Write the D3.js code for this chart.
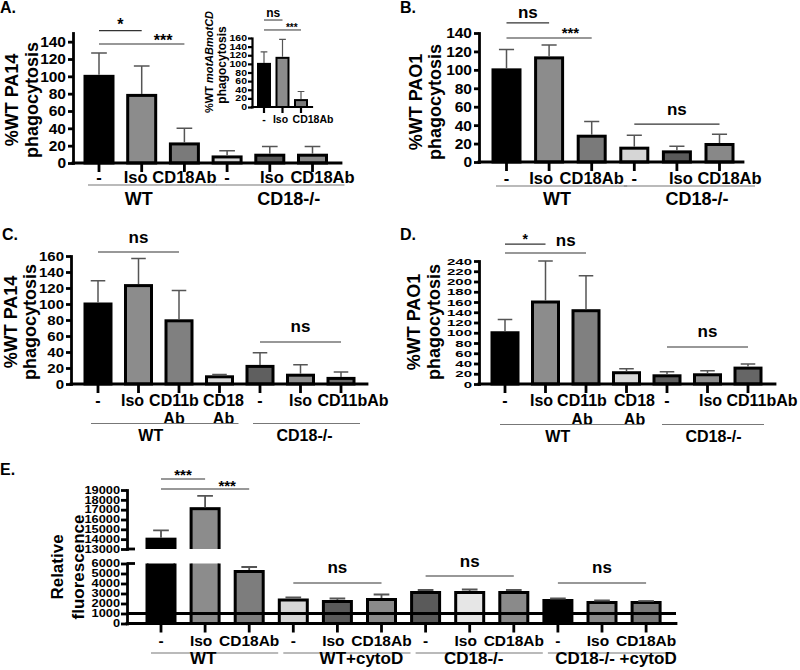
<!DOCTYPE html>
<html><head><meta charset="utf-8">
<script src="https://cdn.jsdelivr.net/npm/d3@7"></script>
<style>
body{margin:0;background:#fff}
svg text{font-family:"Liberation Sans",Arial,Helvetica,sans-serif;font-weight:bold;fill:#000}
</style></head><body>
<svg id="c" width="800" height="670" xmlns="http://www.w3.org/2000/svg"></svg>
<script>
// ---------------- DATA ----------------
// Panel A (PA14)
const catsA = ["-", "Iso", "CD18Ab", "-", "Iso", "CD18Ab"];
const groupsA = ["WT", "CD18-/-"];
const groupSizeA = [3, 3];
const meanA = [100, 78, 22, 7, 9, 9];
const sdA = [27, 34, 18, 7, 10, 10];
const ticksA = [0, 20, 40, 60, 80, 100, 120, 140];

// Panel A inset (motABmotCD)
const catsIn = ["-", "Iso", "CD18Ab"];
const meanIn = [100, 114, 16];
const sdIn = [28, 43, 20];
const ticksIn = [0, 20, 40, 60, 80, 100, 120, 140, 160];

// Panel B (PAO1)
const catsB = ["-", "Iso", "CD18Ab", "-", "Iso", "CD18Ab"];
const groupsB = ["WT", "CD18-/-"];
const groupSizeB = [3, 3];
const meanB = [100, 113, 28, 15, 11, 19];
const sdB = [22, 14, 16, 14, 6, 11];
const ticksB = [0, 20, 40, 60, 80, 100, 120, 140];

// Panel C (PA14, CD11b)
const catsC = ["-", "Iso", "CD11b\nAb", "CD18\nAb", "-", "Iso", "CD11bAb"];
const groupsC = ["WT", "CD18-/-"];
const groupSizeC = [4, 3];
const meanC = [100, 123, 79, 9, 22, 11, 7];
const sdC = [29, 34, 38, 3, 17, 13, 8];
const ticksC = [0, 20, 40, 60, 80, 100, 120, 140, 160];

// Panel D (PAO1, CD11b)
const catsD = ["-", "Iso", "CD11b\nAb", "CD18\nAb", "-", "Iso", "CD11bAb"];
const groupsD = ["WT", "CD18-/-"];
const groupSizeD = [4, 3];
const meanD = [100, 160, 143, 22, 16, 18, 31];
const sdD = [26, 80, 68, 8, 8, 8, 8];
const ticksD = [0, 20, 40, 60, 80, 100, 120, 140, 160, 180, 200, 220, 240];

// Panel E (relative fluorescence, broken axis)
const catsE = ["-", "Iso", "CD18Ab", "-", "Iso", "CD18Ab", "-", "Iso", "CD18Ab", "-", "Iso", "CD18Ab"];
const groupsE = ["WT", "WT+cytoD", "CD18-/-", "CD18-/- +cytoD"];
const groupSizeE = [3, 3, 3, 3];
const meanE = [14000, 17100, 5200, 2350, 2200, 2400, 3100, 3100, 3100, 2300, 2100, 2100];
const sdE = [900, 1300, 450, 250, 300, 500, 250, 300, 250, 200, 200, 150];
const ticksELow = [0, 1000, 2000, 3000, 4000, 5000, 6000];
const ticksEHigh = [13000, 14000, 15000, 16000, 17000, 18000, 19000];
const baselineE = 1000;

// ---------------- STYLE ----------------
const FONT = '"Liberation Sans", Arial, Helvetica, sans-serif';
const fillsA = ["#000", "#8c8c8c", "#7a7a7a", "#d4d4d4", "#595959", "#898989"];
const fillsIn = ["#000", "#8c8c8c", "#7a7a7a"];
const fillsB = ["#000", "#8c8c8c", "#7a7a7a", "#d6d6d6", "#5a5a5a", "#888888"];
const fillsC = ["#000", "#8c8c8c", "#808080", "#d8d8d8", "#5f5f5f", "#8c8c8c", "#6e6e6e"];
const fillsD = ["#000", "#8c8c8c", "#808080", "#d8d8d8", "#5f5f5f", "#8c8c8c", "#666666"];
const fillsE = ["#000", "#8c8c8c", "#7d7d7d", "#d6d6d6", "#5a5a5a", "#8a8a8a", "#5a5a5a", "#e6e6e6", "#8a8a8a", "#000", "#8a8a8a", "#7a7a7a"];
const fmt = d3.format("d");

const svg = d3.select("#c");

function bandFor(n, firstLeft, step, bw) {
  const gap = step - bw;
  const r0 = firstLeft - gap / 2;
  return d3.scaleBand().domain(d3.range(n)).range([r0, r0 + n * step])
    .paddingInner(gap / step).paddingOuter(gap / step / 2);
}

function styleAxis(g, fs, sw, sy) {
  g.attr("font-family", FONT);
  g.select(".domain").attr("stroke", "#000").attr("stroke-width", sw).attr("stroke-linecap", "square");
  g.selectAll(".tick line").attr("stroke", "#000").attr("stroke-width", sw);
  g.selectAll(".tick text").attr("font-size", fs).attr("font-weight", "bold").attr("fill", "#000");
  if (sy) g.selectAll(".tick text").attr("transform", `scale(1,${sy})`);
}

function groupStarts(sizes) {
  const s = []; let acc = 0;
  sizes.forEach(n => { s.push(acc); acc += n; });
  return s;
}

function drawBars(g, x, y, mean, sd, fills, o) {
  g.selectAll(null).data(mean).join("rect")
    .attr("x", (d, i) => x(i)).attr("width", x.bandwidth())
    .attr("y", d => y(d)).attr("height", d => y(0) - y(d))
    .attr("fill", (d, i) => fills[i]).attr("stroke", "#000").attr("stroke-width", o.barSW);
  const cx = i => x(i) + x.bandwidth() / 2;
  const cap = x.bandwidth() * 0.28;
  g.selectAll(null).data(mean).join("path")
    .attr("d", (d, i) => `M${cx(i)},${y(d) - o.barSW / 2}V${y(d + sd[i])}M${cx(i) - cap},${y(d + sd[i])}H${cx(i) + cap}`)
    .attr("fill", "none").attr("stroke", "#555").attr("stroke-width", o.errSW);
}

function drawCats(g, x, cats, o) {
  const cx = i => x(i) + x.bandwidth() / 2 + (o.catDx ? o.catDx[i] : 0);
  const t = g.selectAll(null).data(cats).join("text")
    .attr("text-anchor", "middle").attr("font-size", o.catFont)
    .attr("x", (d, i) => cx(i)).attr("y", o.catY);
  t.each(function (d, i) {
    const parts = d.split("\n");
    d3.select(this).selectAll("tspan").data(parts).join("tspan")
      .attr("x", cx(i))
      .attr("dy", (p, k) => k === 0 ? 0 : o.lineH)
      .text(p => p);
  });
}

function drawGroups(g, x, groups, sizes, o) {
  const starts = groupStarts(sizes);
  const bw = x.bandwidth();
  groups.forEach((lab, gi) => {
    const a = starts[gi], b = a + sizes[gi] - 1;
    g.append("line").attr("x1", x(a) + o.ulPad[0]).attr("x2", x(b) + bw + o.ulPad[1])
      .attr("y1", o.ulY).attr("y2", o.ulY).attr("stroke", "#777").attr("stroke-width", 1.1);
    const cx = (x(a) + x(b) + bw) / 2 + o.grpDx[gi];
    g.append("text").attr("x", cx).attr("y", o.grpY).attr("text-anchor", "middle")
      .attr("font-size", o.grpFont).text(lab);
  });
}

function drawBrackets(g, x, y, brs) {
  const cx = i => x(i) + x.bandwidth() / 2;
  brs.forEach(b => {
    const yy = y(b.v);
    g.append("line").attr("x1", cx(b.a)).attr("x2", cx(b.b)).attr("y1", yy).attr("y2", yy)
      .attr("stroke", "#333").attr("stroke-width", b.sw || 1.2);
    g.append("text").attr("x", (cx(b.la) + cx(b.lb)) / 2).attr("y", yy + b.dy)
      .attr("text-anchor", "middle").attr("font-size", b.fs).text(b.t);
  });
}

function yTitle(lines, cy, fs) {
  lines.forEach(l => {
    svg.append("text").attr("transform", `translate(${l.x},${cy}) rotate(-90)`)
      .attr("text-anchor", "middle").attr("font-size", fs).text(l.t);
  });
}

function panel(o) {
  const g = svg.append("g");
  const x = bandFor(o.mean.length, o.firstLeft, o.step, o.bw);
  const y = d3.scaleLinear().domain([0, o.max]).range([o.y0, o.yTop]);
  drawBars(g, x, y, o.mean, o.sd, o.fills, o);
  const ya = g.append("g").attr("transform", `translate(${o.axisX},0)`)
    .call(d3.axisLeft(y).tickValues(o.ticks).tickFormat(fmt).tickSize(o.tickLen).tickPadding(o.tickPad).tickSizeOuter(0));
  styleAxis(ya, o.tickFont, o.axisSW, o.tickSY);
  g.append("line").attr("x1", o.axisX).attr("x2", o.xEnd).attr("y1", y(0)).attr("y2", y(0))
    .attr("stroke", "#000").attr("stroke-width", o.axisSW).attr("stroke-linecap", "square");
  g.selectAll(null).data(o.mean).join("line")
    .attr("x1", (d, i) => x(i) + x.bandwidth() / 2).attr("x2", (d, i) => x(i) + x.bandwidth() / 2)
    .attr("y1", y(0)).attr("y2", y(0) + o.xTickLen).attr("stroke", "#000").attr("stroke-width", o.axisSW);
  drawCats(g, x, o.cats, o);
  if (o.groups) drawGroups(g, x, o.groups, o.groupSize, o);
  drawBrackets(g, x, y, o.brackets);
  return { x, y, g };
}

// ---------------- PANEL A ----------------
panel({
  cats: catsA, mean: meanA, sd: sdA, fills: fillsA, ticks: ticksA, max: 150,
  axisX: 73, y0: 163, yTop: 33, firstLeft: 85, step: 42.7, bw: 28, xEnd: 341,
  tickLen: 5, tickPad: 2, tickFont: 15.5, axisSW: 2.8, barSW: 3, errSW: 1.5, xTickLen: 9,
  catY: 183, catFont: 16.5, lineH: 18, catDx: [0, -6, 0, 0, 2, 10],
  groups: groupsA, groupSize: groupSizeA, ulY: 185, ulPad: [3, 18], grpY: 205, grpFont: 18, grpDx: [-3, 19],
  brackets: [
    { a: 0, b: 1, la: 0, lb: 1, v: 152.7, t: "*", dy: -0.5, fs: 16 },
    { a: 0, b: 2, la: 1, lb: 2, v: 137.3, t: "***", dy: 2, fs: 16 }
  ]
});
yTitle([{ x: 18, t: "%WT PA14" }, { x: 38, t: "phagocytosis" }], 100, 18);

// inset
panel({
  cats: catsIn, mean: meanIn, sd: sdIn, fills: fillsIn, ticks: ticksIn, max: 160,
  axisX: 252, y0: 107, yTop: 38, firstLeft: 258, step: 18.5, bw: 12, xEnd: 312,
  tickLen: 4, tickPad: 1, tickFont: 10.5, axisSW: 2.2, barSW: 2, errSW: 1.2, xTickLen: 6, tickSY: 0.78,
  catY: 123, catFont: 10.5, lineH: 12, catDx: [0, -2, 12],
  brackets: [
    { a: 0, b: 1, la: 0, lb: 1, v: 201.7, t: "ns", dy: -3, fs: 12, sw: 1 },
    { a: 0, b: 2, la: 1, lb: 2, v: 178.6, t: "***", dy: 1.5, fs: 10, sw: 1 }
  ]
});
(function () {
  const t = svg.append("text").attr("transform", "translate(213,62) rotate(-90)")
    .attr("text-anchor", "middle").attr("font-size", 11);
  t.append("tspan").text("%WT ");
  t.append("tspan").attr("font-style", "italic").text("motABmotCD");
  yTitle([{ x: 226, t: "phagocytosis" }], 65, 12);
})();

// ---------------- PANEL B ----------------
panel({
  cats: catsB, mean: meanB, sd: sdB, fills: fillsB, ticks: ticksB, max: 140,
  axisX: 479, y0: 162, yTop: 33, firstLeft: 493, step: 42.6, bw: 27, xEnd: 743,
  tickLen: 5, tickPad: 2, tickFont: 15.5, axisSW: 2.8, barSW: 3, errSW: 1.5, xTickLen: 9,
  catY: 184, catFont: 16.5, lineH: 18, catDx: [0, -8, 0, 0, 4, 10],
  groups: groupsB, groupSize: groupSizeB, ulY: 186, ulPad: [3, 22], grpY: 205, grpFont: 18, grpDx: [8, 20],
  brackets: [
    { a: 0, b: 1, la: 0, lb: 1, v: 150.9, t: "ns", dy: -5, fs: 17 },
    { a: 0, b: 2, la: 1, lb: 2, v: 134.6, t: "***", dy: 0, fs: 15 },
    { a: 3, b: 5, la: 3, lb: 5, v: 41.2, t: "ns", dy: -9, fs: 17 }
  ]
});
yTitle([{ x: 422, t: "%WT PAO1" }, { x: 441, t: "phagocytosis" }], 102, 18);

// ---------------- PANEL C ----------------
panel({
  cats: catsC, mean: meanC, sd: sdC, fills: fillsC, ticks: ticksC, max: 160,
  axisX: 71, y0: 384, yTop: 256, firstLeft: 85, step: 40.5, bw: 26, xEnd: 367,
  tickLen: 5, tickPad: 2, tickFont: 15, axisSW: 2.8, barSW: 3, errSW: 1.5, xTickLen: 9, tickSY: 0.88,
  catY: 405.5, catFont: 16, lineH: 18, catDx: [0, -6, -5, 4, 0, 0, 12],
  groups: groupsC, groupSize: groupSizeC, ulY: 423.5, ulPad: [6, 6], grpY: 441, grpFont: 16, grpDx: [-8, 4],
  brackets: [
    { a: 0, b: 2, la: 0, lb: 2, v: 165, t: "ns", dy: -9, fs: 17 },
    { a: 4, b: 6, la: 4, lb: 6, v: 52.5, t: "ns", dy: -10, fs: 17 }
  ]
});
yTitle([{ x: 17, t: "%WT PA14" }, { x: 36, t: "phagocytosis" }], 322, 18);

// ---------------- PANEL D ----------------
panel({
  cats: catsD, mean: meanD, sd: sdD, fills: fillsD, ticks: ticksD, max: 240,
  axisX: 479, y0: 384, yTop: 261, firstLeft: 492, step: 40.5, bw: 26, xEnd: 775,
  tickLen: 5, tickPad: 2, tickFont: 15, axisSW: 2.8, barSW: 3, errSW: 1.5, xTickLen: 9, tickSY: 0.66,
  catY: 406, catFont: 16, lineH: 18.5, catDx: [0, -4, -4, 8, 0, 3, 14],
  groups: groupsD, groupSize: groupSizeD, ulY: 424.5, ulPad: [8, 3], grpY: 442, grpFont: 16, grpDx: [-8, 6],
  brackets: [
    { a: 0, b: 1, la: 0, lb: 1, v: 273, t: "*", dy: 0, fs: 14 },
    { a: 0, b: 2, la: 1, lb: 2, v: 255.6, t: "ns", dy: -7, fs: 17 },
    { a: 4, b: 6, la: 4, lb: 6, v: 72.2, t: "ns", dy: -10, fs: 17 }
  ]
});
yTitle([{ x: 420, t: "%WT PAO1" }, { x: 440, t: "phagocytosis" }], 322, 18);

// ---------------- PANEL E ----------------
(function () {
  const g = svg.append("g");
  const x = bandFor(meanE.length, 147, 44.1, 28);
  const yLo = d3.scaleLinear().domain([0, 6000]).range([623.5, 563.5]);
  const yHi = d3.scaleLinear().domain([13000, 19000]).range([549, 490]);
  const axisX = 127, xEnd = 676, sw = 2.8, bsw = 3;
  const defs = svg.append("defs");
  defs.append("clipPath").attr("id", "clipLo").append("rect")
    .attr("x", 100).attr("y", yLo(6000)).attr("width", 620).attr("height", 80);
  defs.append("clipPath").attr("id", "clipHi").append("rect")
    .attr("x", 100).attr("y", 460).attr("width", 620).attr("height", yHi(13000) - 460);
  const cx = i => x(i) + x.bandwidth() / 2;
  // lower segment bars
  g.append("g").attr("clip-path", "url(#clipLo)").selectAll(null).data(meanE).join("rect")
    .attr("x", (d, i) => x(i)).attr("width", x.bandwidth())
    .attr("y", d => Math.max(yLo(d), 400)).attr("height", d => yLo(0) - Math.max(yLo(d), 400))
    .attr("fill", (d, i) => fillsE[i]).attr("stroke", "#000").attr("stroke-width", bsw);
  // upper segment bars
  const hiIdx = meanE.map((d, i) => i).filter(i => meanE[i] > 13000);
  g.append("g").attr("clip-path", "url(#clipHi)").selectAll(null).data(hiIdx).join("rect")
    .attr("x", i => x(i)).attr("width", x.bandwidth())
    .attr("y", i => yHi(meanE[i])).attr("height", i => yHi(12000) - yHi(meanE[i]))
    .attr("fill", i => fillsE[i]).attr("stroke", "#000").attr("stroke-width", bsw);
  // error bars
  const cap = x.bandwidth() * 0.28;
  g.selectAll(null).data(meanE).join("path")
    .attr("d", (d, i) => {
      const ys = d > 13000 ? yHi : yLo;
      const top = ys(d + sdE[i]);
      return `M${cx(i)},${ys(d) - bsw / 2}V${top}M${cx(i) - cap},${top}H${cx(i) + cap}`;
    })
    .attr("fill", "none").attr("stroke", "#555").attr("stroke-width", 1.8);
  // axes
  const aLo = g.append("g").attr("transform", `translate(${axisX},0)`)
    .call(d3.axisLeft(yLo).tickValues(ticksELow).tickFormat(fmt).tickSize(6).tickPadding(1).tickSizeOuter(0));
  styleAxis(aLo, 12.8, sw, 0.8);
  const aHi = g.append("g").attr("transform", `translate(${axisX},0)`)
    .call(d3.axisLeft(yHi).tickValues(ticksEHigh).tickFormat(fmt).tickSize(6).tickPadding(1).tickSizeOuter(0));
  styleAxis(aHi, 12.8, sw, 0.8);
  // break stubs
  [yHi(13000), yLo(6000)].forEach(yy => {
    g.append("line").attr("x1", axisX).attr("x2", axisX + 8).attr("y1", yy).attr("y2", yy)
      .attr("stroke", "#000").attr("stroke-width", sw);
  });
  // baseline at 1000 and x axis
  g.append("line").attr("x1", axisX).attr("x2", xEnd).attr("y1", yLo(baselineE)).attr("y2", yLo(baselineE))
    .attr("stroke", "#000").attr("stroke-width", sw);
  g.append("line").attr("x1", axisX).attr("x2", xEnd).attr("y1", yLo(0)).attr("y2", yLo(0))
    .attr("stroke", "#000").attr("stroke-width", sw).attr("stroke-linecap", "square");
  g.selectAll(null).data(meanE).join("line")
    .attr("x1", (d, i) => cx(i)).attr("x2", (d, i) => cx(i))
    .attr("y1", yLo(0)).attr("y2", yLo(0) + 9).attr("stroke", "#000").attr("stroke-width", sw);
  drawCats(g, x, catsE, { catY: 645.5, catFont: 15.5, lineH: 17, catDx: [0, -4, 0, 0, -4, 0, 0, -4, 0, 0, -4, 0] });
  drawGroups(g, x, groupsE, groupSizeE, { ulY: 653, ulPad: [4, 15], grpY: 664, grpFont: 17, grpDx: [-2, 24, 4, 14] });
  // significance brackets
  drawBrackets(g, x, yHi, [
    { a: 0, b: 1, la: 0, lb: 1, v: 20120, t: "***", dy: 1, fs: 15 },
    { a: 0, b: 2, la: 1, lb: 2, v: 19104, t: "***", dy: 2, fs: 15 }
  ]);
  drawBrackets(g, x, yLo, [
    { a: 3, b: 5, la: 3, lb: 5, v: 4050, t: "ns", dy: -10, fs: 17 },
    { a: 6, b: 8, la: 6, lb: 8, v: 4750, t: "ns", dy: -9, fs: 17 },
    { a: 9, b: 11, la: 9, lb: 11, v: 4050, t: "ns", dy: -10, fs: 17 }
  ]);
})();
yTitle([{ x: 63, t: "Relative" }, { x: 84, t: "fluorescence" }], 567, 17);

// ---------------- PANEL LETTERS ----------------
const letters = [["A.", 0, 13], ["B.", 400, 13], ["C.", 2, 240], ["D.", 400, 240], ["E.", 0, 475]];
svg.selectAll(null).data(letters).join("text")
  .attr("x", d => d[1]).attr("y", d => d[2]).attr("font-size", 16).text(d => d[0]);
</script>
</body></html>
